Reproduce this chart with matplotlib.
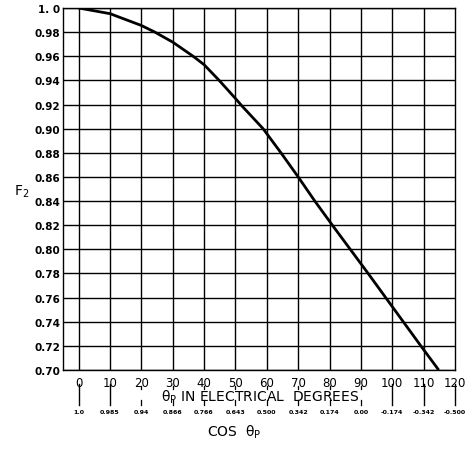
import matplotlib
matplotlib.use("Agg")
import matplotlib.pyplot as plt

# Data
theta_deg = [0, 10, 20, 24.3, 30, 36.5, 40, 44.8, 50, 52, 58.8, 64.5, 70, 75.3, 80.9,
             86.6, 92.3, 97.9, 103.5, 109.1, 114.8]
f2 = [1.0, 0.9953, 0.9855, 0.98, 0.9717, 0.96, 0.953, 0.94, 0.925, 0.919, 0.90, 0.88,
      0.86, 0.84, 0.82, 0.80, 0.78, 0.76, 0.74, 0.72, 0.70]

deg_ticks = [0, 10, 20, 30, 40, 50, 60, 70, 80, 90, 100, 110, 120]
cos_labels = ["1.0", "0.985", "0.94", "0.866", "0.766", "0.643", "0.500", "0.342",
              "0.174", "0.00", "-0.174", "-0.342", "-0.500"]
y_ticks = [0.70, 0.72, 0.74, 0.76, 0.78, 0.80, 0.82, 0.84, 0.86, 0.88, 0.90, 0.92, 0.94, 0.96, 0.98, 1.0]
y_labels = ["0.70", "0.72", "0.74", "0.76", "0.78", "0.80", "0.82", "0.84", "0.86", "0.88",
            "0.90", "0.92", "0.94", "0.96", "0.98", "1. 0"]

fig = plt.figure(figsize=(4.73, 4.52), dpi=100)
L, R, T, B = 63, 455, 9, 371
ax = fig.add_axes([L/473, 1-B/452, (R-L)/473, (B-T)/452])

ax.set_xlim(-5, 120)
ax.set_ylim(0.70, 1.0)

# grid
for x in deg_ticks[:-1]:
    ax.axvline(x, color="black", lw=1.0, zorder=1)
for y in y_ticks:
    ax.axhline(y, color="black", lw=1.0, zorder=1)

ax.plot(theta_deg, f2, color="black", lw=2.0, zorder=3, solid_capstyle="butt",
        solid_joinstyle="round")

for s in ax.spines.values():
    s.set_linewidth(1.0)

ax.set_yticks(y_ticks)
ax.set_yticklabels(y_labels, fontsize=7.5, fontweight="bold")
ax.tick_params(axis="y", length=0, pad=2)
ax.set_xticks(deg_ticks)
ax.set_xticklabels([str(d) for d in deg_ticks], fontsize=8.5)
ax.tick_params(axis="x", length=0, pad=4)

trans = ax.get_xaxis_transform()
H = float(B - T)
def fy(py):
    return (B - py) / H

long_idx = [0, 1, 10, 11, 12]
for i, d in enumerate(deg_ticks):
    if i in long_idx:
        ax.plot([d, d], [fy(385), fy(406)], color="black", lw=1.0, transform=trans, clip_on=False)
    else:
        ax.plot([d, d], [fy(386.5), fy(390)], color="black", lw=0.9, transform=trans, clip_on=False)
        ax.plot([d, d], [fy(401), fy(406)], color="black", lw=0.9, transform=trans, clip_on=False)
    ax.text(d, fy(413), cos_labels[i], fontsize=4.5, fontweight="bold", ha="center", va="center",
            transform=trans)

ax.text(58, fy(397), "θ$_{\\mathrm{P}}$ IN ELECTRICAL  DEGREES", fontsize=10, ha="center", va="center",
        transform=trans)
ax.text(49.5, fy(432), "COS  θ$_{\\mathrm{P}}$", fontsize=10, ha="center", va="center", transform=trans)

fig.text(22/473, 1-192/452, "F$_{2}$", fontsize=10, ha="center", va="center")

fig.savefig("out.png", dpi=100)
